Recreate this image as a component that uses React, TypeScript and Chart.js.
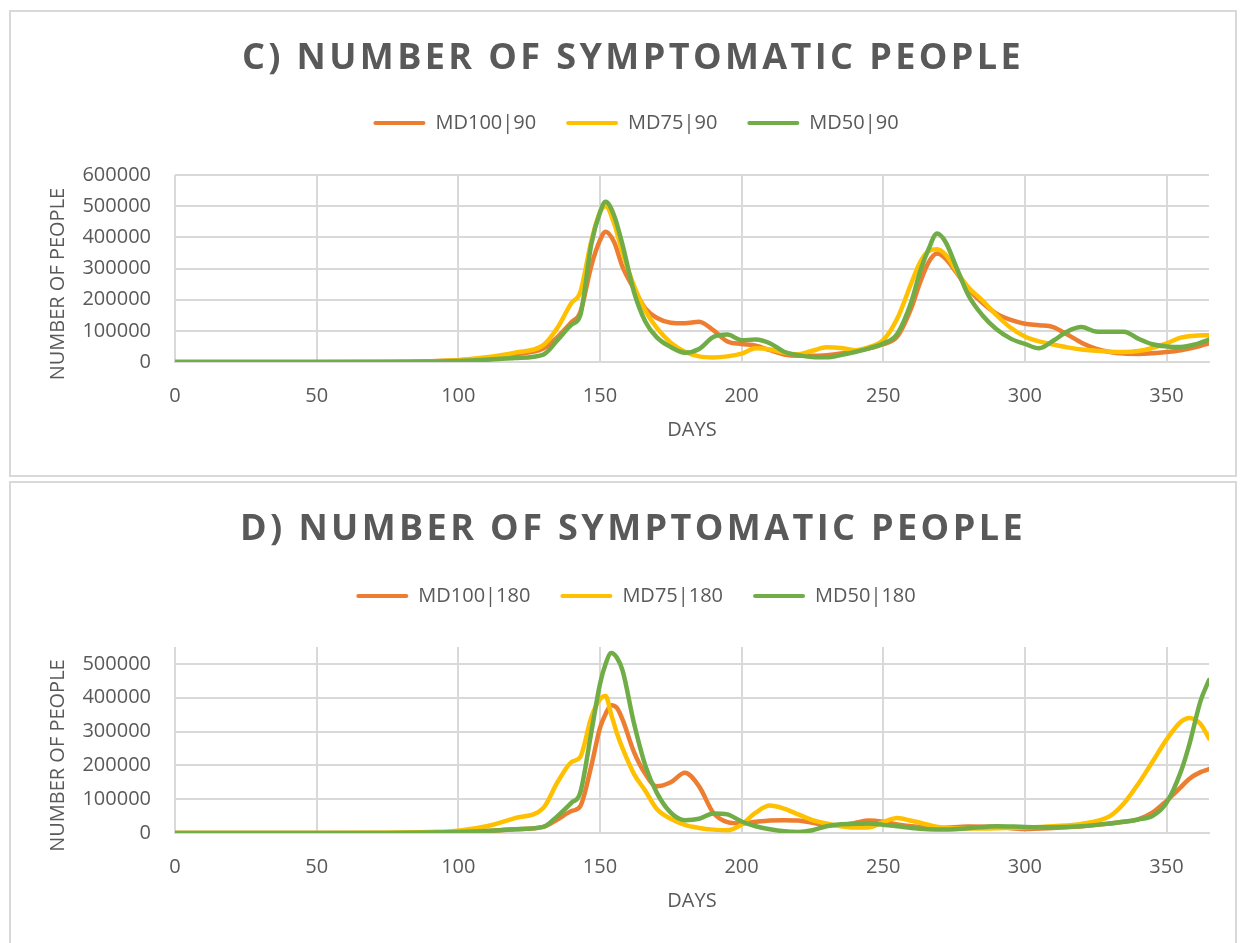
import React, { useEffect, useRef } from "react";
import { Chart, registerables } from "chart.js";

Chart.register(...registerables);

// ---------- data ----------
const DAYS_C = [0, 25, 50, 75, 90, 100, 110, 120, 130, 135, 140, 143, 147, 150, 152, 155, 158, 162, 166, 170, 175, 180, 185, 190, 195, 200, 205, 210, 215, 220, 225, 230, 235, 240, 245, 250, 255, 260, 263, 266, 269, 272, 276, 280, 285, 290, 295, 300, 305, 310, 315, 320, 325, 330, 335, 340, 345, 350, 355, 360, 365];

const MD100_I90 = [0, 0, 0, 500, 2500, 6000, 13000, 25000, 43000, 80000, 128000, 158000, 310000, 390000, 418000, 385000, 305000, 235000, 172000, 142000, 126000, 124000, 129000, 102000, 66000, 58000, 52000, 38000, 24000, 20000, 20000, 22000, 27000, 35000, 44000, 57000, 82000, 175000, 255000, 320000, 348000, 332000, 285000, 235000, 190000, 155000, 135000, 123000, 118000, 112000, 88000, 62000, 43000, 32000, 27000, 26000, 28000, 32000, 38000, 47000, 60000];

const MD75_I90 = [0, 0, 0, 500, 2500, 6000, 15000, 30000, 54000, 110000, 190000, 222000, 390000, 480000, 500000, 445000, 350000, 245000, 165000, 110000, 62000, 33000, 18000, 14500, 18000, 27000, 44000, 40000, 30000, 25000, 36000, 47000, 45000, 38000, 48000, 70000, 140000, 255000, 320000, 356000, 362000, 345000, 290000, 240000, 198000, 150000, 110000, 82000, 66000, 56000, 47000, 40000, 36000, 33000, 32000, 35000, 45000, 60000, 78000, 84000, 86000];

const MD50_I90 = [0, 0, 0, 300, 1500, 3000, 7000, 13000, 24000, 70000, 120000, 148000, 380000, 480000, 514000, 470000, 375000, 225000, 130000, 80000, 48000, 30000, 42000, 80000, 88000, 70000, 72000, 60000, 33000, 22000, 16000, 15000, 22000, 32000, 44000, 59000, 91000, 195000, 290000, 362000, 412000, 385000, 300000, 215000, 150000, 105000, 75000, 58000, 44000, 68000, 98000, 112000, 98000, 97000, 97000, 75000, 57000, 50000, 48000, 56000, 72000];

const DAYS_D = [0, 25, 50, 75, 90, 100, 110, 120, 130, 135, 140, 143, 147, 150, 152, 154, 156, 158, 162, 166, 170, 175, 180, 185, 190, 195, 200, 205, 210, 215, 220, 225, 230, 235, 240, 245, 250, 255, 260, 270, 280, 290, 300, 310, 320, 330, 335, 340, 345, 350, 355, 358, 362, 365];

const MD100_I180 = [0, 0, 0, 300, 1500, 3000, 6000, 11000, 18000, 40000, 65000, 78000, 200000, 310000, 352000, 378000, 370000, 335000, 240000, 175000, 138000, 150000, 178000, 138000, 60000, 32000, 28000, 33000, 37000, 38000, 37000, 30000, 24000, 23000, 30000, 37000, 33000, 25000, 20000, 15000, 19000, 18000, 12000, 15000, 20000, 28000, 33000, 40000, 60000, 95000, 135000, 160000, 180000, 189000];

const MD75_I180 = [0, 0, 0, 500, 3000, 7000, 20000, 44000, 74000, 150000, 210000, 224000, 343000, 395000, 405000, 350000, 295000, 250000, 175000, 125000, 72000, 42000, 24000, 15000, 10000, 8000, 25000, 60000, 81000, 72000, 55000, 38000, 28000, 20000, 16000, 17000, 32000, 44000, 36000, 17000, 13000, 14000, 16000, 20000, 27000, 50000, 88000, 145000, 210000, 276000, 328000, 340000, 322000, 280000];

const MD50_I180 = [0, 0, 0, 300, 1500, 3000, 6000, 11000, 18000, 50000, 90000, 118000, 300000, 440000, 500000, 532000, 518000, 480000, 325000, 200000, 120000, 60000, 38000, 42000, 58000, 55000, 34000, 20000, 11000, 5000, 3000, 8000, 20000, 26000, 27000, 28000, 24000, 20000, 15000, 10000, 14000, 20000, 18000, 17000, 20000, 28000, 33000, 40000, 50000, 89000, 180000, 260000, 390000, 452000];

const SERIES_C_NAMES = ["MD100|90", "MD75|90", "MD50|90"];
const SERIES_D_NAMES = ["MD100|180", "MD75|180", "MD50|180"];
const COLORS = ["#ED7D31", "#FFC000", "#70AD47"];
const X_MAX = 365;
const X_TICKS = [0, 50, 100, 150, 200, 250, 300, 350];
const Y_TICKS_C = [0, 100000, 200000, 300000, 400000, 500000, 600000];
const Y_TICKS_D = [0, 100000, 200000, 300000, 400000, 500000];
const Y_MAX_C = 600000;
const Y_MAX_D = 550000;

const TEXT = "#595959";
const GRID = "#d9d9d9";
const FONT = "'Open Sans', 'Noto Sans', sans-serif";
const CANVAS_W = 1224;

type PanelSpec = {
  title: string;
  days: number[];
  series: number[][];
  names: string[];
  yMax: number;
  yTicks: number[];
  canvasH: number;
  legendTop: number;
  spacer: number;
};

function buildConfig(p: PanelSpec): any {
  const plotBottom = 350;
  const xTitleCenter = 418.5;
  const xScaleH = p.canvasH - plotBottom;
  const xTitleLh = 24;
  const xTitlePadBottom = p.canvasH - xTitleCenter - xTitleLh / 2;
  return {
    type: "line",
    data: {
      datasets: p.series.map((vals, i) => ({
        label: p.names[i],
        data: vals.map((v, j) => ({ x: p.days[j], y: v })),
        borderColor: COLORS[i],
        backgroundColor: COLORS[i],
        borderWidth: 4.5,
        pointRadius: 0,
        pointHoverRadius: 0,
        fill: false,
        borderCapStyle: "round",
        borderJoinStyle: "round",
        cubicInterpolationMode: "monotone",
        order: 3 - i,
      })),
    },
    options: {
      responsive: false,
      animation: false,
      events: [],
      layout: { padding: { top: p.legendTop, left: 52, right: 26, bottom: 0 } },
      font: { family: FONT },
      color: TEXT,
      plugins: {
        title: { display: false },
        tooltip: { enabled: false },
        subtitle: {
          display: true,
          text: "",
          weight: 500,
          position: "top",
          font: { size: 10, lineHeight: 1 },
          padding: { top: 0, bottom: p.spacer - 10 },
        },
        legend: {
          display: true,
          position: "top",
          labels: {
            boxWidth: 52,
            boxHeight: 4,
            padding: 30,
            color: TEXT,
            font: { size: 20, family: FONT },
            useBorderRadius: true,
            borderRadius: 2,
            generateLabels: (chart: any) =>
              Chart.defaults.plugins.legend.labels
                .generateLabels(chart)
                .map((l: any) => ({ ...l, lineWidth: 0 })),
            sort: (a: any, b: any) => a.datasetIndex - b.datasetIndex,
          },
        },
      },
      scales: {
        x: {
          type: "linear",
          min: 0,
          max: X_MAX,
          afterFit: (s: any) => {
            s.height = xScaleH;
          },
          afterBuildTicks: (s: any) => {
            s.ticks = X_TICKS.map((v) => ({ value: v }));
          },
          ticks: {
            padding: 22,
            color: TEXT,
            font: { size: 20, family: FONT },
            maxRotation: 0,
            autoSkip: false,
          },
          grid: { color: GRID, lineWidth: 2, drawTicks: false },
          border: { display: true, color: GRID, width: 2 },
          title: {
            display: true,
            text: "DAYS",
            color: TEXT,
            font: { size: 20, family: FONT, lineHeight: 1.2 },
            padding: { top: 0, bottom: xTitlePadBottom },
          },
        },
        y: {
          type: "linear",
          min: 0,
          max: p.yMax,
          afterFit: (s: any) => {
            s.width = 112;
          },
          afterBuildTicks: (s: any) => {
            s.ticks = p.yTicks.map((v) => ({ value: v }));
          },
          ticks: {
            padding: 24,
            color: TEXT,
            font: { size: 20, family: FONT },
            autoSkip: false,
            callback: (v: any) => String(v),
          },
          grid: { color: GRID, lineWidth: 2, drawTicks: false },
          border: { display: false },
          title: {
            display: true,
            text: "NUMBER OF PEOPLE      ",
            color: TEXT,
            font: { size: 20, family: FONT, lineHeight: 1.2 },
            padding: { top: -17, bottom: 0 },
          },
        },
      },
    },
  };
}

function Panel(props: { spec: PanelSpec; top: number; bottomBorder: boolean }) {
  const ref = useRef<HTMLCanvasElement | null>(null);
  const { spec, top, bottomBorder } = props;
  useEffect(() => {
    if (!ref.current) return;
    const chart = new Chart(ref.current, buildConfig(spec));
    return () => chart.destroy();
  }, []);
  return (
    <div
      style={{
        position: "absolute",
        left: 9,
        top,
        width: CANVAS_W,
        height: spec.canvasH,
        border: `2px solid ${GRID}`,
        borderBottom: bottomBorder ? `2px solid ${GRID}` : "none",
        background: "#fff",
        overflow: "hidden",
      }}
    >
      <canvas
        ref={ref}
        width={CANVAS_W}
        height={spec.canvasH}
        style={{ position: "absolute", left: 0, top: 0, width: CANVAS_W, height: spec.canvasH }}
      />
      <div
        style={{
          position: "absolute",
          left: 0,
          top: 26,
          width: CANVAS_W,
          paddingLeft: 20,
          boxSizing: "border-box",
          textAlign: "center",
          fontFamily: FONT,
          fontWeight: 700,
          fontSize: 36,
          lineHeight: "36px",
          letterSpacing: "3.4px",
          color: TEXT,
          whiteSpace: "nowrap",
          pointerEvents: "none",
        }}
      >
        {spec.title}
      </div>
    </div>
  );
}

const PANEL_C: PanelSpec = {
  title: "C) NUMBER OF SYMPTOMATIC PEOPLE",
  days: DAYS_C,
  series: [MD100_I90, MD75_I90, MD50_I90],
  names: SERIES_C_NAMES,
  yMax: Y_MAX_C,
  yTicks: Y_TICKS_C,
  canvasH: 463,
  legendTop: 71,
  spacer: 32,
};

const PANEL_D: PanelSpec = {
  title: "D) NUMBER OF SYMPTOMATIC PEOPLE",
  days: DAYS_D,
  series: [MD100_I180, MD75_I180, MD50_I180],
  names: SERIES_D_NAMES,
  yMax: Y_MAX_D,
  yTicks: Y_TICKS_D,
  canvasH: 460,
  legendTop: 73,
  spacer: 31,
};

export default function App() {
  return (
    <div>
      <Panel spec={PANEL_C} top={10} bottomBorder={true} />
      <Panel spec={PANEL_D} top={481} bottomBorder={false} />
    </div>
  );
}
